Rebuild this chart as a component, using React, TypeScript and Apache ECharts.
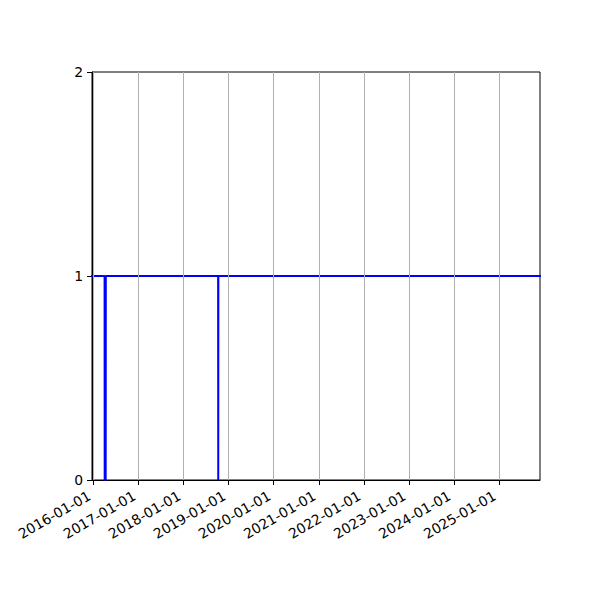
import React, { useEffect, useRef } from "react";
import * as echarts from "echarts";

// status samples (date, value)
const dates = [
  "2015-11-01",
  "2016-03-30",
  "2016-03-31",
  "2016-04-08",
  "2016-04-09",
  "2018-10-07",
  "2018-10-08",
  "2018-10-09",
  "2026-01-31",
];
const values = [1, 1, 0, 0, 1, 1, 0, 1, 1];

const tickDates = [
  "2016-01-01",
  "2017-01-01",
  "2018-01-01",
  "2019-01-01",
  "2020-01-01",
  "2021-01-01",
  "2022-01-01",
  "2023-01-01",
  "2024-01-01",
  "2025-01-01",
];
const yTicks = [0, 1, 2];

const toTime = (d: string) => new Date(d + "T00:00:00Z").getTime();

const fmt = (v: number) => {
  const d = new Date(v);
  const p = (n: number) => String(n).padStart(2, "0");
  return `${d.getUTCFullYear()}-${p(d.getUTCMonth() + 1)}-${p(d.getUTCDate())}`;
};

const App: React.FC = () => {
  const chartRef = useRef<HTMLDivElement | null>(null);

  useEffect(() => {
    document.body.style.margin = "0";
    if (!chartRef.current) return;
    const chart = echarts.init(chartRef.current, null, { renderer: "svg" });
    const ticks = tickDates.map(toTime);
    const font = { fontFamily: "DejaVu Sans", fontSize: 13.9, color: "#000" };

    chart.setOption({
      animation: false,
      grid: {
        left: 92,
        right: 60,
        top: 72,
        bottom: 120,
        show: true,
        borderColor: "#000",
        borderWidth: 1,
      },
      xAxis: {
        type: "value",
        min: toTime("2015-12-19"),
        max: toTime("2025-11-30"),
        axisLine: { show: true, lineStyle: { color: "#000", width: 1 } },
        axisTick: { show: true, length: 5, customValues: ticks, lineStyle: { color: "#000" } },
        axisLabel: {
          ...font,
          customValues: ticks,
          rotate: 30,
          margin: 12,
          padding: [0, 5, 0, 0],
          formatter: (v: number) => fmt(v),
        },
        splitLine: { show: false },
      },
      yAxis: {
        type: "value",
        min: yTicks[0],
        max: yTicks[yTicks.length - 1],
        interval: 1,
        axisLine: { show: true, lineStyle: { color: "#000", width: 1 } },
        axisTick: { show: true, length: 5, lineStyle: { color: "#000" } },
        axisLabel: { ...font, margin: 9 },
        splitLine: { show: false },
      },
      series: [
        {
          type: "line",
          data: [],
          z: 1,
          silent: true,
          markLine: {
            silent: true,
            symbol: ["none", "none"],
            label: { show: false },
            lineStyle: { color: "#b0b0b0", width: 1, type: "solid" },
            data: ticks.map((t) => ({ xAxis: t })),
          },
        },
        {
          type: "line",
          z: 2,
          showSymbol: false,
          symbol: "none",
          lineStyle: { color: "#0000ff", width: 2 },
          data: dates.map((d, i) => [toTime(d), values[i]]),
        },
      ],
    });

    return () => {
      chart.dispose();
    };
  }, []);

  return <div ref={chartRef} style={{ width: "600px", height: "600px" }} />;
};

export default App;
